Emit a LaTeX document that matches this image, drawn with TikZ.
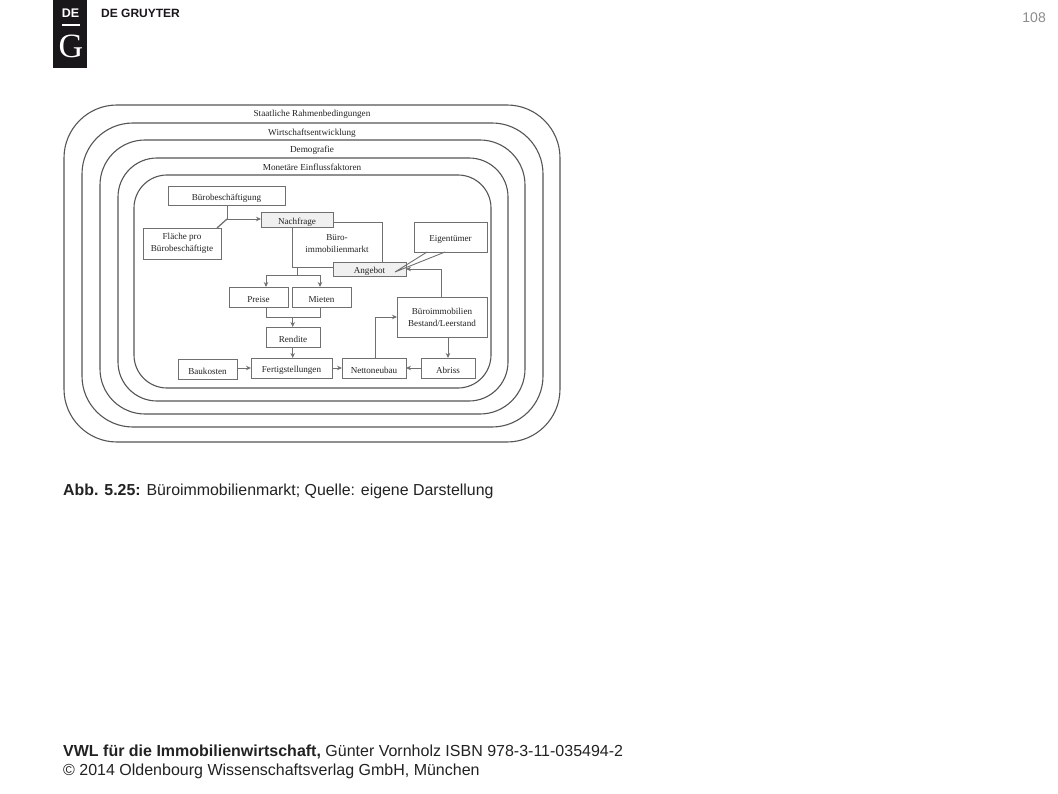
\documentclass[tikz,border=0pt]{standalone}
\usepackage{fontspec}
\setmainfont{Liberation Serif}
\newfontfamily\pagefont{Liberation Sans}
\usetikzlibrary{arrows.meta,positioning}
\definecolor{ringgray}{HTML}{555555}
\definecolor{boxgray}{HTML}{707070}
\definecolor{boxfill}{HTML}{F0F0F0}
\definecolor{inkgray}{HTML}{222222}
\definecolor{pagenum}{HTML}{8C8C8C}
\definecolor{logoblack}{HTML}{1A171B}
\tikzset{
  ring/.style={draw=ringgray,line width=1.1pt,inner sep=0pt,outer sep=0pt},
  ringlabel/.style={font=\fontsize{9.2}{11}\selectfont,text=inkgray,inner sep=0pt},
  boxnode/.style={draw=boxgray,line width=0.8pt,fill=white,inner sep=0pt,outer sep=0pt,align=center,
    font=\fontsize{9.1}{12}\selectfont,text=inkgray,execute at begin node={\rule{0pt}{11pt}}},
  marketbox/.style={boxnode,fill=boxfill},
  conn/.style={draw=boxgray,line width=0.9pt},
  flow/.style={conn,-{Stealth[length=5pt,width=4.5pt]}},
  pagetext/.style={font=\pagefont\fontsize{16}{18}\selectfont,text=inkgray,anchor=west,inner sep=0pt}
}
\begin{document}
\begin{tikzpicture}[x=1pt,y=-1pt]
\useasboundingbox (0,0) rectangle (1058,794);
% page furniture
\node[fill=logoblack,minimum width=34pt,minimum height=68pt,inner sep=0pt,anchor=north west] (logo) at (53,0) {};
\node[font=\pagefont\bfseries\fontsize{12.5}{14}\selectfont,text=white,inner sep=0pt] (logode) at (70.5,13.5) {DE};
\node[fill=white,minimum width=18pt,minimum height=1.2pt,inner sep=0pt] (logorule) at (70.5,25) {};
\node[font=\fontsize{34}{36}\selectfont,text=white,inner sep=0pt] (logog) at (71,46.5) {G};
\node[font=\pagefont\bfseries\fontsize{12}{14}\selectfont,text=logoblack,anchor=west,inner sep=0pt] (brand) at (101,13) {DE GRUYTER};
\node[font=\pagefont\fontsize{14}{16}\selectfont,text=pagenum,anchor=east,inner sep=0pt] (pageno) at (1046,18) {108};
% rings
\foreach \l/\t/\r/\b/\rad in {64/105/560/442/53,82/123/543/427/51,100/140/525/414/45,118/158/508/401/39,134/175/491/388/33}{
  \draw[ring,rounded corners=\rad pt] (\l,\t) rectangle (\r,\b);
}
\node[ringlabel] (staat) at (312,114.5) {Staatliche Rahmenbedingungen};
\node[ringlabel] (wirtschaft) at (312,133) {Wirtschaftsentwicklung};
\node[ringlabel] (demo) at (312,150) {Demografie};
\node[ringlabel] (monetaer) at (312,167.5) {Monetäre Einflussfaktoren};
% boxes
\node[boxnode,minimum width=117pt,minimum height=19pt] (besch) at (226.5,195.5) {Bürobeschäftigung};
\node[marketbox,minimum width=72pt,minimum height=15pt] (nachfrage) at (297,219.5) {Nachfrage};
\node[boxnode,minimum width=78pt,minimum height=31pt] (flaeche) at (182,243.5) {Fläche pro\\Bürobeschäftigte};
\node[marketbox,minimum width=73pt,minimum height=14pt] (angebot) at (369.5,269) {Angebot};
\node[boxnode,minimum width=73pt,minimum height=30pt] (eigen) at (450.5,237) {Eigentümer};
\node[boxnode,draw=none,fill=none] (markt) at (337,243.5) {Büro-\\immobilienmarkt};
\node[boxnode,minimum width=59pt,minimum height=20pt] (preise) at (258.5,297) {Preise};
\node[boxnode,minimum width=59pt,minimum height=20pt,right=4pt of preise] (mieten) {Mieten};
\node[boxnode,minimum width=54pt,minimum height=20pt] (rendite) at (293,337) {Rendite};
\node[boxnode,minimum width=81pt,minimum height=20pt] (fertig) at (291.5,368) {Fertigstellungen};
\node[boxnode,minimum width=59pt,minimum height=20pt] (bau) at (207.5,369) {Baukosten};
\node[boxnode,minimum width=64pt,minimum height=20pt,right=10pt of fertig] (netto) {Nettoneubau};
\node[boxnode,minimum width=54pt,minimum height=20pt,right=15pt of netto] (abriss) {Abriss};
\node[boxnode,minimum width=90pt,minimum height=40pt] (bestand) at (442,317) {Büroimmobilien\\Bestand/Leerstand};
% connectors
\coordinate (join) at (227,219);
\coordinate (marktright) at (333,222);
\coordinate (splitup) at (297,267);
\coordinate (split) at (297,275);
\coordinate (merge) at (292.7,317);
\coordinate (tip) at (395,272);
\draw[conn] (besch.south -| join) -- (join);
\draw[conn,line width=1.3pt] ([xshift=35pt]flaeche.north) -- (join);
\draw[flow] (join) -- (join -| nachfrage.west);
\draw[conn] (marktright) -| (angebot.north -| 382,0);
\draw[conn] (nachfrage.south -| 292,0) |- (angebot.west |- splitup);
\draw[conn] (splitup) -- (split);
\draw[flow] (split) -| (preise.north -| rendite.west);
\draw[flow] (split) -| (mieten.north -| rendite.east);
\draw[conn] (preise.south -| rendite.west) |- (merge);
\draw[conn] (mieten.south -| rendite.east) |- (merge);
\draw[flow] (merge) -- (merge |- rendite.north);
\draw[flow] (rendite.south -| merge) -- (fertig.north -| merge);
\draw[flow] (bau.east |- fertig) -- (fertig.west);
\foreach \x/\y in {fertig/netto,abriss/netto}{\draw[flow] (\x)--(\y);}
\draw[flow] (bestand.south -| 448,0) -- (abriss.north -| 448,0);
\draw[flow] (netto.north -| 375,0) |- (bestand.west);
\draw[flow] (bestand.north -| 441,0) |- (angebot.east);
\draw[conn] ([xshift=-23.5pt]eigen.south) -- (tip) -- ([xshift=-5.5pt]eigen.south);
% caption and footer
\node[pagetext,font=\pagefont\fontsize{15.9}{18}\selectfont] (caption) at (63,491) {\textbf{Abb. 5.25:} Büroimmobilienmarkt; Quelle: eigene Darstellung};
\node[pagetext] (foot) at (63,752) {\textbf{VWL für die Immobilienwirtschaft,} Günter Vornholz ISBN 978-3-11-035494-2};
\node[pagetext] (copy) at (63,771) {© 2014 Oldenbourg Wissenschaftsverlag GmbH, München};
\end{tikzpicture}
\end{document}
